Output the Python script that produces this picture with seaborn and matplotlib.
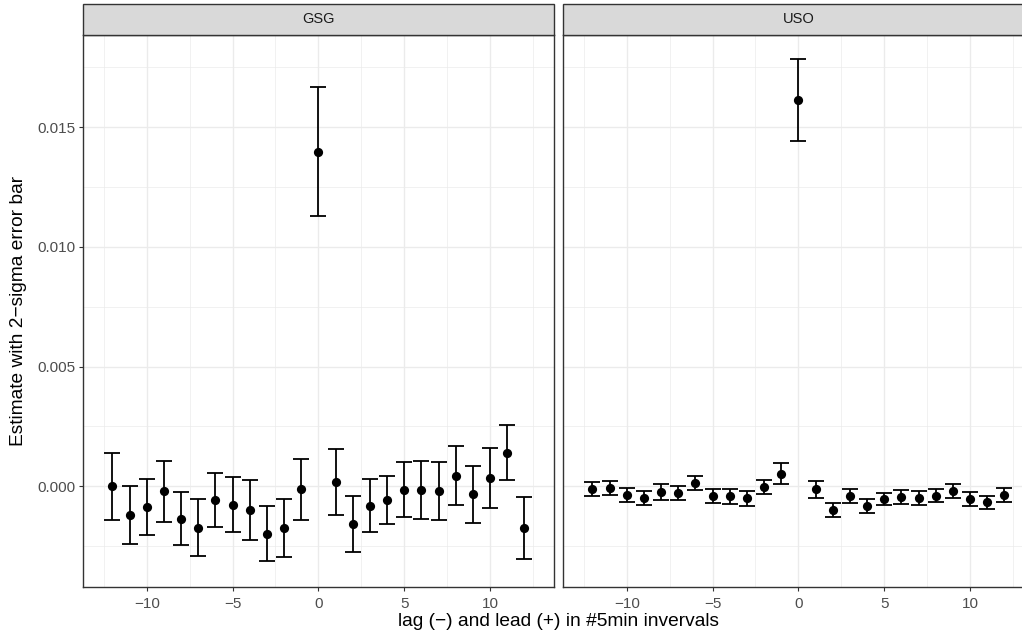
import numpy as np
import pandas as pd
import seaborn as sns
import matplotlib.pyplot as plt
from matplotlib.patches import Rectangle
from matplotlib.ticker import MultipleLocator, FormatStrFormatter

# Lag/lead offsets (in 5-minute intervals)
lags = list(range(-12, 13))

# GSG: point estimates and 2-sigma half widths
gsg_est = [0.00000, -0.00121, -0.00086, -0.00022, -0.00136, -0.00174, -0.00057,
           -0.00078, -0.00099, -0.00199, -0.00174, -0.00013, 0.01397, 0.00019,
           -0.00158, -0.00081, -0.00058, -0.00014, -0.00017, -0.00021, 0.00044,
           -0.00033, 0.00035, 0.00139, -0.00176]
gsg_err = [0.00140, 0.00120, 0.00118, 0.00128, 0.00110, 0.00119, 0.00113,
           0.00115, 0.00125, 0.00115, 0.00120, 0.00127, 0.00269, 0.00138,
           0.00117, 0.00111, 0.00101, 0.00115, 0.00121, 0.00121, 0.00122,
           0.00119, 0.00125, 0.00115, 0.00130]

# USO: point estimates and 2-sigma half widths
uso_est = [-0.00013, -0.00008, -0.00036, -0.00049, -0.00024, -0.00029, 0.00013,
           -0.00042, -0.00043, -0.00051, -0.00004, 0.00053, 0.01613, -0.00013,
           -0.00099, -0.00040, -0.00082, -0.00054, -0.00046, -0.00050, -0.00039,
           -0.00020, -0.00054, -0.00068, -0.00038]
uso_err = [0.00030, 0.00030, 0.00030, 0.00031, 0.00035, 0.00029, 0.00030,
           0.00030, 0.00030, 0.00030, 0.00028, 0.00042, 0.00170, 0.00035,
           0.00029, 0.00030, 0.00030, 0.00026, 0.00030, 0.00030, 0.00026,
           0.00030, 0.00030, 0.00028, 0.00030]

tickers = ["GSG", "USO"]

df = pd.concat([
    pd.DataFrame({"ticker": "GSG", "lag": lags, "est": gsg_est, "err": gsg_err}),
    pd.DataFrame({"ticker": "USO", "lag": lags, "est": uso_est, "err": uso_err}),
], ignore_index=True)

sns.set_theme(style="white")
plt.rcParams["font.family"] = ["Liberation Sans", "DejaVu Sans"]

W, H = 1022, 641
g = sns.FacetGrid(df, col="ticker", col_order=tickers, sharey=True, sharex=True)
fig = g.figure
fig.set_size_inches(W / 100, H / 100)
fig.set_dpi(100)
fig.patch.set_facecolor("white")


def draw_panel(data, **kws):
    ax = plt.gca()
    ax.errorbar(data["lag"], data["est"], yerr=data["err"], fmt="none",
                ecolor="black", elinewidth=1.3, capsize=5.6, capthick=1.3,
                zorder=3)
    sns.scatterplot(data=data, x="lag", y="est", ax=ax, color="black",
                    s=44, edgecolor="black", linewidth=0, zorder=4)


g.map_dataframe(draw_panel)

# Panel geometry in pixels (left, top, right, bottom of the plotting area)
panel_px = [(83.3, 34.5, 553.5, 586.5), (563.3, 34.5, 1033.5, 586.5)]
strip_h = 30.8

for ax, name, (l, t, r, b) in zip(g.axes.flat, tickers, panel_px):
    ax.set_position([l / W, (H - b) / H, (r - l) / W, (b - t) / H])
    ax.set_xlim(-13.7, 13.7)
    ax.set_ylim(-0.00419, 0.01887)
    ax.set_title("")
    ax.set_xlabel("")
    ax.set_ylabel("")
    ax.xaxis.set_major_locator(MultipleLocator(5))
    ax.xaxis.set_minor_locator(MultipleLocator(2.5))
    ax.yaxis.set_major_locator(MultipleLocator(0.005))
    ax.yaxis.set_minor_locator(MultipleLocator(0.0025))
    ax.yaxis.set_major_formatter(FormatStrFormatter("%.3f"))
    ax.set_axisbelow(True)
    ax.grid(which="major", color="#EBEBEB", linewidth=0.95)
    ax.grid(which="minor", color="#EBEBEB", linewidth=0.5)
    for s in ax.spines.values():
        s.set_color("#333333")
        s.set_linewidth(1.0)
        s.set_visible(True)
    ax.tick_params(which="major", length=2.9, width=0.8, color="#333333",
                   labelcolor="#4D4D4D", labelsize=11, pad=3)
    ax.tick_params(which="minor", length=0)
    ax.tick_params(axis="x", bottom=True, pad=4.5)
    ax.tick_params(axis="y", left=True)

    # facet strip
    sh = strip_h / (b - t)
    strip = Rectangle((0, 1), 1, sh, transform=ax.transAxes, clip_on=False,
                      facecolor="#D9D9D9", edgecolor="#333333", linewidth=1.0,
                      zorder=5)
    ax.add_patch(strip)
    ax.text(0.5, 1 + sh / 2, name, transform=ax.transAxes, ha="center",
            va="center", fontsize=10.5, color="#1A1A1A", zorder=6)

g.axes.flat[1].tick_params(axis="y", left=False, labelleft=False)

fig.text(558 / W, (H - 622) / H, "lag (\u2212) and lead (+) in #5min invervals",
         ha="center", va="center", fontsize=13.8, color="black")
fig.text(19 / W, (H - 310.5) / H, "Estimate with 2\u2212sigma error bar",
         ha="center", va="center", rotation=90, fontsize=13.8, color="black")

fig.savefig("out.png", dpi=100, facecolor="white")
